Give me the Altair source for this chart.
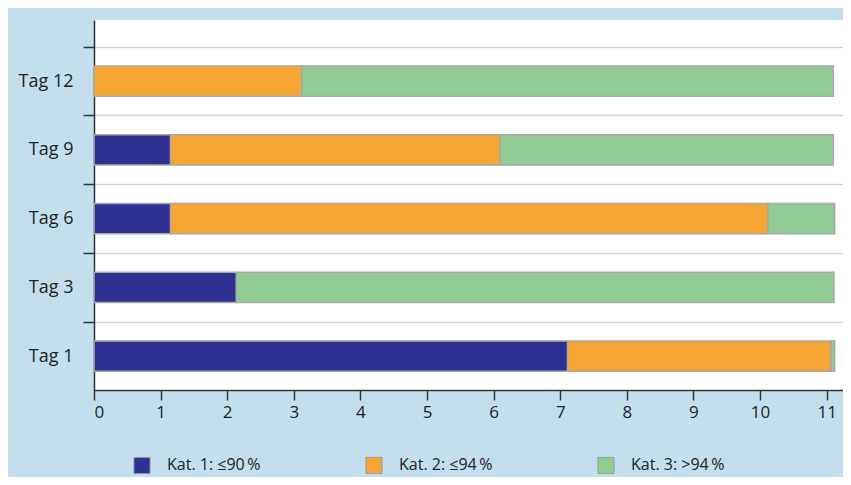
import altair as alt
import pandas as pd

days = ["Tag 12", "Tag 9", "Tag 6", "Tag 3", "Tag 1"]
kat1 = [0.0, 1.15, 1.15, 2.14, 7.11]
kat2 = [3.12, 4.95, 8.97, 0.0, 3.96]
kat3 = [7.98, 5.00, 1.00, 8.97, 0.05]
categories = ["Kat. 1: \u226490\u2009%", "Kat. 2: \u226494\u2009%", "Kat. 3: >94\u2009%"]
colors = ["#2e3192", "#f7a533", "#91cc94"]
x_ticks = list(range(12))

rows = []
for i, d in enumerate(days):
    for k, (cat, vals) in enumerate(zip(categories, [kat1, kat2, kat3])):
        rows.append({"day": d, "kat": cat, "value": vals[i], "idx": k})
df = pd.DataFrame(rows)

FONT = "Open Sans"
PLOT_H = 370
P_IN, P_OUT = 0.56, 0.47
STEP = PLOT_H / (len(days) - P_IN + 2 * P_OUT)
HALF_GAP = P_IN * STEP / 2

chart = alt.Chart(df).mark_bar(stroke="#a8a8a8", strokeWidth=1.5).encode(
    y=alt.Y(
        "day:N", sort=days, title=None,
        scale=alt.Scale(paddingInner=P_IN, paddingOuter=P_OUT, align=0.71),
        axis=alt.Axis(
            bandPosition=0, tickOffset=-HALF_GAP, labelOffset=HALF_GAP,
            grid=True, gridColor="#d4d4d4", gridWidth=1.5,
            ticks=True, tickSize=11, tickColor="#333333", tickWidth=1.5,
            domainColor="#333333", domainWidth=1.5,
            labelFontSize=18, labelColor="#222222", labelPadding=10, labelFont=FONT,
        ),
    ),
    x=alt.X(
        "value:Q", stack="zero", title=None,
        scale=alt.Scale(domain=[0, 11.245], nice=False),
        axis=alt.Axis(
            values=x_ticks, grid=False, tickSize=10, tickColor="#333333", tickWidth=1.5,
            domainColor="#333333", domainWidth=1.5,
            labelFontSize=17, labelColor="#222222", labelPadding=4, labelFont=FONT,
        ),
    ),
    color=alt.Color(
        "kat:N", title=None,
        scale=alt.Scale(domain=categories, range=colors),
        legend=alt.Legend(
            orient="none", legendX=39, legendY=436, direction="horizontal", columns=3,
            gridAlign="all", columnPadding=102, symbolType="square", symbolSize=260,
            symbolStrokeColor="#9a9a9a", symbolStrokeWidth=1, labelOffset=16,
            labelFontSize=16, labelColor="#222222", labelFont=FONT, padding=0,
        ),
    ),
    order=alt.Order("idx:Q"),
).properties(
    width=749, height=PLOT_H,
    autosize=alt.AutoSizeParams(type="none"),
    padding={"left": 86, "top": 12, "right": 0, "bottom": 87},
    background="#c3dfee",
).configure_view(fill="white", stroke=None)

chart.save("out.html", embed_options={"renderer": "svg", "actions": False})
